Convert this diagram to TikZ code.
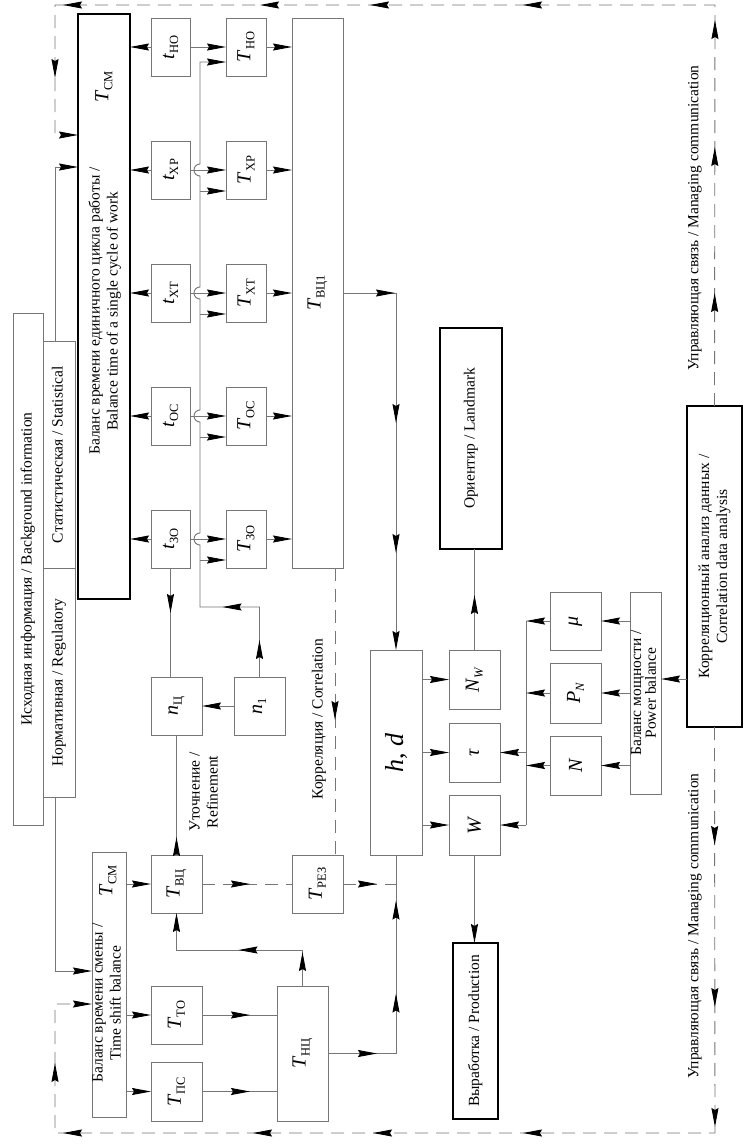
\documentclass[tikz,border=0pt]{standalone}
\usepackage{fontspec,graphicx}
\setmainfont{Liberation Serif}
\usetikzlibrary{arrows.meta,decorations.markings,calc}
\definecolor{ln}{RGB}{118,118,118}
\newcommand\tsub[2]{{\fontsize{20}{20}\selectfont\textit{#1}}{\fontsize{12.5}{13}\selectfont\raisebox{-4pt}{#2}}}
\newcommand\vtext[1]{\rotatebox{90}{\begin{tabular}{@{}c@{}}#1\end{tabular}}}
\tikzset{bx/.style={draw=ln,line width=1pt,inner sep=0pt,outer sep=0pt},
 kb/.style={bx,draw=black,line width=1.2pt},
 wire/.style={draw=ln,line width=.9pt},arr/.style={wire,->},
 dsh/.style={wire,dash pattern=on 13pt off 8pt},
 ma/.style={postaction={decorate,decoration={markings,mark=at position #1 with {\arrow{>}}}}},
 every node/.style={font=\fontsize{15.5}{18}\selectfont}}
\begin{document}
\begin{tikzpicture}[x=1pt,y=-1pt,>={Stealth[length=19pt,width=7pt,inset=2pt,color=black]}]
\path[use as bounding box,fill=white] (0,0) rectangle (749,1146);
% source information
\node[bx,minimum width=30pt,minimum height=512pt] (bg) at (28,569) {\vtext{Исходная информация / Background information}};
\node[bx,minimum width=32pt,minimum height=227pt] (stat) at (59,454.5) {\vtext{Статистическая / Statistical}};
\node[bx,minimum width=32pt,minimum height=229pt] (reg) at (59,682.5) {\vtext{Нормативная / Regulatory}};
% cycle balance
\node[kb,minimum width=52pt,minimum height=585pt] (cyc) at (104,306.5) {};
\node (cyct) at (105,311) {\vtext{Баланс времени единичного цикла работы /\\Balance time of a single cycle of work}};
\node (cycs) at (104,87) {\rotatebox{90}{\tsub{T}{СМ}}};
\node[bx,minimum width=51pt,minimum height=550pt] (tvc1) at (317.5,293) {\rotatebox{90}{\tsub{T}{ВЦ1}}};
\foreach \s/\y [count=\i] in {НО/47,ХР/170,ХТ/293,ОС/416,ЗО/539}{
 \node[bx,minimum width=39pt,minimum height=58pt] (t\i) at (170.5,\y) {\rotatebox{90}{\tsub{t}{\s}}};
 \node[bx,minimum width=40pt,minimum height=58pt] (T\i) at (246,\y) {\rotatebox{90}{\tsub{T}{\s}}};
 \draw[arr] (t\i.west) -- (t\i.west -| cyc.east);\draw[arr] (t\i.east) -- (T\i.west);
 \draw[arr] (T\i.east) -- (T\i.east -| tvc1.west);}
\node[bx,minimum width=51pt,minimum height=58pt] (nc) at (176.5,706) {\rotatebox{90}{\tsub{n}{Ц}}};
\node[bx,minimum width=51pt,minimum height=58pt] (n1) at (259.5,706) {\rotatebox{90}{\tsub{n}{1}}};
\draw[arr] (n1.west) -- (nc.east);\draw[wire,ma=45pt] (t5.south) -- (t5.south |- nc.north);
\draw[arr,ma=37pt,ma=107pt] (n1.north) -- (259.5,607) -- (200,607) -- (200,545) arc[start angle=90,end angle=270,radius=6]
 -- (200,422) arc[start angle=90,end angle=270,radius=6] -- (200,299) arc[start angle=90,end angle=270,radius=6]
 -- (200,176) arc[start angle=90,end angle=270,radius=6] -- (200,62) -- ([yshift=-15pt]T1.west);
\foreach \i in {2,...,5} \draw[arr] ([yshift=-21pt,xshift=-26pt]T\i.west) -- ([yshift=-21pt]T\i.west);
% shift balance
\node[bx,minimum width=34pt,minimum height=265pt] (shb) at (109,984.5) {};
\node (shbs) at (108,881) {\rotatebox{90}{\tsub{T}{СМ}}};
\node (shbt) at (108,1003) {\vtext{Баланс времени смены /\\Time shift balance}};
\node[bx,minimum width=51pt,minimum height=58pt] (tvc) at (176.5,884) {\rotatebox{90}{\tsub{T}{ВЦ}}};
\node[bx,minimum width=51pt,minimum height=58pt] (tto) at (176.5,1015) {\rotatebox{90}{\tsub{T}{ТО}}};
\node[bx,minimum width=51pt,minimum height=59pt] (tps) at (176.5,1091.5) {\rotatebox{90}{\tsub{T}{ПС}}};
\node[bx,minimum width=51pt,minimum height=135pt] (tnc) at (302.5,1053.5) {\rotatebox{90}{\tsub{T}{НЦ}}};
\node[bx,minimum width=51pt,minimum height=58pt] (trez) at (317.5,884) {\rotatebox{90}{\tsub{T}{РЕЗ}}};
\foreach \n in {tvc,tto,tps} \draw[arr] (shb.east |- \n) -- (\n.west);
\draw[wire,ma=48pt] (tto.east) -- (tto.east -| tnc.west);\draw[wire,ma=48pt] (tps.east) -- (tps.east -| tnc.west);
\draw[arr,ma=34pt,ma=100pt] (tnc.north) -- ++(0,-36) -| (tvc.south);
\draw[wire,ma=18pt] (tvc.north) -- (nc.south);
\node (refl) at (205,792) {\vtext{Уточнение /\\Refinement}};
% working parameters
\node[bx,minimum width=52pt,minimum height=205pt] (hd) at (396,752.5) {\rotatebox{90}{\fontsize{26}{26}\selectfont\textit{h}, \textit{d}}};
\node[bx,minimum width=51pt,minimum height=59pt] (nw) at (474.5,679.5) {\rotatebox{90}{\tsub{N}{\textit{W}}}};
\node[bx,minimum width=51pt,minimum height=59pt] (tau) at (474.5,752.5) {\rotatebox{90}{\fontsize{20}{20}\selectfont\textit{τ}}};
\node[bx,minimum width=51pt,minimum height=60pt] (w) at (474.5,825) {\rotatebox{90}{\fontsize{20}{20}\selectfont\textit{W}}};
\foreach \n in {nw,tau,w} \draw[arr] (hd.east |- \n) -- (\n.west);
\draw[dsh,ma=48pt] (tvc.east) -- (trez.west);\draw[dsh,ma=34pt] (trez.east) -- (trez.east -| hd.south);
\draw[dsh,ma=152pt] ([xshift=-8pt]tvc1.south east) -- ([xshift=-8pt]trez.north east);
\node (corl) at (319,719) {\rotatebox{90}{Корреляция / Correlation}};
\draw[wire,ma=49pt,ma=128pt,ma=221pt] (tnc.east) -- (tnc.east -| hd.south) -- (hd.south);
\draw[arr,ma=52pt,ma=183pt,ma=313pt] (tvc1.east) -- (tvc1.east -| hd.north) -- (hd.north);
\node[kb,minimum width=62pt,minimum height=221pt] (ori) at (471,438.5) {\vtext{Ориентир / Landmark}};
\node[kb,minimum width=45pt,minimum height=176pt] (prod) at (475.5,1031) {\vtext{Выработка / Production}};
\draw[wire,ma=55pt] (nw.north) -- (nw.north |- ori.south);\draw[arr] (w.south) -- (w.south |- prod.north);
% power balance
\node[bx,minimum width=51pt,minimum height=58pt] (mu) at (575.5,621) {\rotatebox{90}{\fontsize{20}{20}\selectfont\textit{μ}}};
\node[bx,minimum width=51pt,minimum height=60pt] (pn) at (575.5,693) {\rotatebox{90}{\tsub{P}{\textit{N}}}};
\node[bx,minimum width=51pt,minimum height=59pt] (nn) at (575.5,765.5) {\rotatebox{90}{\fontsize{20}{20}\selectfont\textit{N}}};
\node[bx,minimum width=31pt,minimum height=202pt] (pb) at (645.5,693) {\fontsize{15.5}{14}\selectfont\vtext{Баланс мощности /\\Power balance}};
\coordinate (jb) at (526,621);\coordinate (je) at (526,825);
\draw[wire] (jb) -- (je);
\foreach \n in {mu,pn,nn}{\draw[arr] (pb.west |- \n) -- (\n.east);\draw[arr] (\n.west) -- (\n.west -| jb);}
\draw[arr] (jb |- tau) -- (tau.east);\draw[arr] (je) -- (w.east);
\node[kb,minimum width=55pt,minimum height=321pt] (corr) at (714.5,566.5) {\vtext{Корреляционный анализ данных /\\Correlation data analysis}};
\draw[arr] ([yshift=-112.5pt]corr.west) -- ([yshift=-112.5pt]corr.west -| pb.east);
% managing loop
\coordinate (fNE) at (715,5);\coordinate (fNW) at (55,5);\coordinate (fSE) at (715,1133);\coordinate (fSW) at (55,1133);
\coordinate (k1) at (55,135);\coordinate (k2) at (55,1004);\coordinate (k3) at (55,167);\coordinate (k4) at (55,971);
\draw[dsh,->,ma=113pt,ma=259pt,ma=386pt,ma=593pt,ma=746pt,ma=856pt,ma=1053pt,ma=1134pt] (corr.north) -- (fNE) -- (fNW) -- (k1) -- (cyc.west |- k1);
\draw[dsh,->,ma=118pt,ma=280pt,ma=400pt,ma=598pt,ma=748pt,ma=868pt,ma=1058pt,ma=1136pt] (corr.south) -- (fSE) -- (fSW) -- (k2) -- (shb.west |- k2);
\draw[arr] (stat.north -| k3) -- (k3) -- (cyc.west |- k3);\draw[arr] (reg.south -| k4) -- (k4) -- (shb.west |- k4);
\node (mc1) at (695,218) {\rotatebox{90}{Управляющая связь / Managing communication}};
\node (mc2) at (695,926) {\rotatebox{90}{Управляющая связь / Managing communication}};
\end{tikzpicture}
\end{document}
